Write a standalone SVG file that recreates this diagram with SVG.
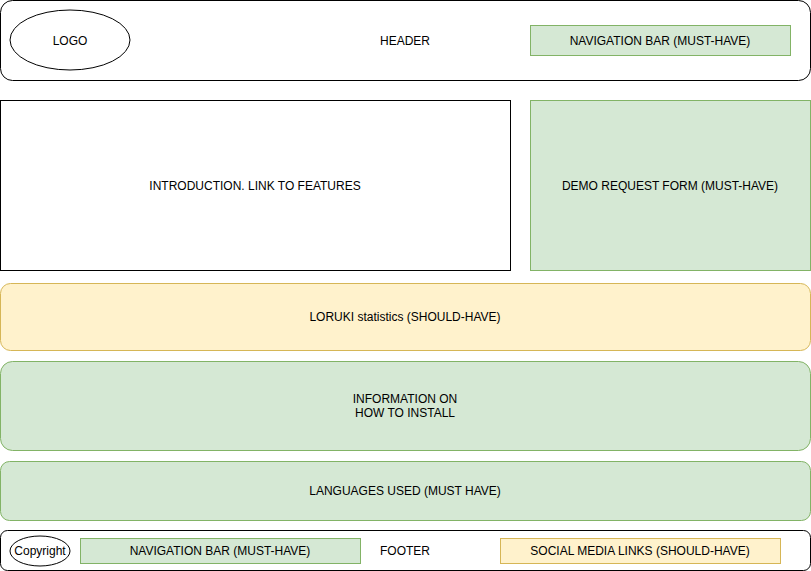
<svg xmlns="http://www.w3.org/2000/svg" width="811" height="571" viewBox="0 0 811 571">
<style>
text{font-family:"Liberation Sans",Arial,sans-serif;font-size:12px;fill:#000;text-anchor:middle;dominant-baseline:central}
.plain{fill:#fff;stroke:#000;stroke-width:1}
.green{fill:#d5e8d4;stroke:#82b366;stroke-width:1}
.yellow{fill:#fff2cc;stroke:#d6b656;stroke-width:1}
</style>
<rect width="811" height="571" fill="#fff"/>
<g id="header">
<rect class="plain" x="0.5" y="0.5" width="810" height="80" rx="12" ry="12"/>
<text x="405" y="41">HEADER</text>
</g>
<g id="logo">
<ellipse class="plain" cx="70" cy="40" rx="60" ry="30"/>
<text x="70" y="41">LOGO</text>
</g>
<g id="navbar-header">
<rect class="green" x="530.5" y="25.5" width="260" height="30"/>
<text x="660" y="41">NAVIGATION BAR (MUST-HAVE)</text>
</g>
<g id="intro">
<rect class="plain" x="0.5" y="100.5" width="510" height="170"/>
<text x="255" y="186">INTRODUCTION. LINK TO FEATURES</text>
</g>
<g id="demo">
<rect class="green" x="530.5" y="100.5" width="280" height="170"/>
<text x="670" y="186">DEMO REQUEST FORM (MUST-HAVE)</text>
</g>
<g id="stats">
<rect class="yellow" x="0.5" y="283.5" width="810" height="67" rx="10" ry="10"/>
<text x="405" y="317">LORUKI statistics (SHOULD-HAVE)</text>
</g>
<g id="install">
<rect class="green" x="0.5" y="361.5" width="810" height="89" rx="12" ry="12"/>
<text x="405" y="399">INFORMATION ON</text>
<text x="405" y="413">HOW TO INSTALL</text>
</g>
<g id="languages">
<rect class="green" x="0.5" y="461.5" width="810" height="59" rx="9" ry="9"/>
<text x="405" y="491">LANGUAGES USED (MUST HAVE)</text>
</g>
<g id="footer">
<rect class="plain" x="0.5" y="530.5" width="810" height="40" rx="7" ry="7"/>
<text x="405" y="551">FOOTER</text>
</g>
<g id="copyright">
<ellipse class="plain" cx="40" cy="551" rx="30" ry="15"/>
<text x="40" y="551">Copyright</text>
</g>
<g id="navbar-footer">
<rect class="green" x="80.5" y="538.5" width="280" height="25"/>
<text x="220" y="551">NAVIGATION BAR (MUST-HAVE)</text>
</g>
<g id="social">
<rect class="yellow" x="500.5" y="538.5" width="280" height="25"/>
<text x="640" y="551">SOCIAL MEDIA LINKS (SHOULD-HAVE)</text>
</g>
<g id="connectors"></g>
</svg>
